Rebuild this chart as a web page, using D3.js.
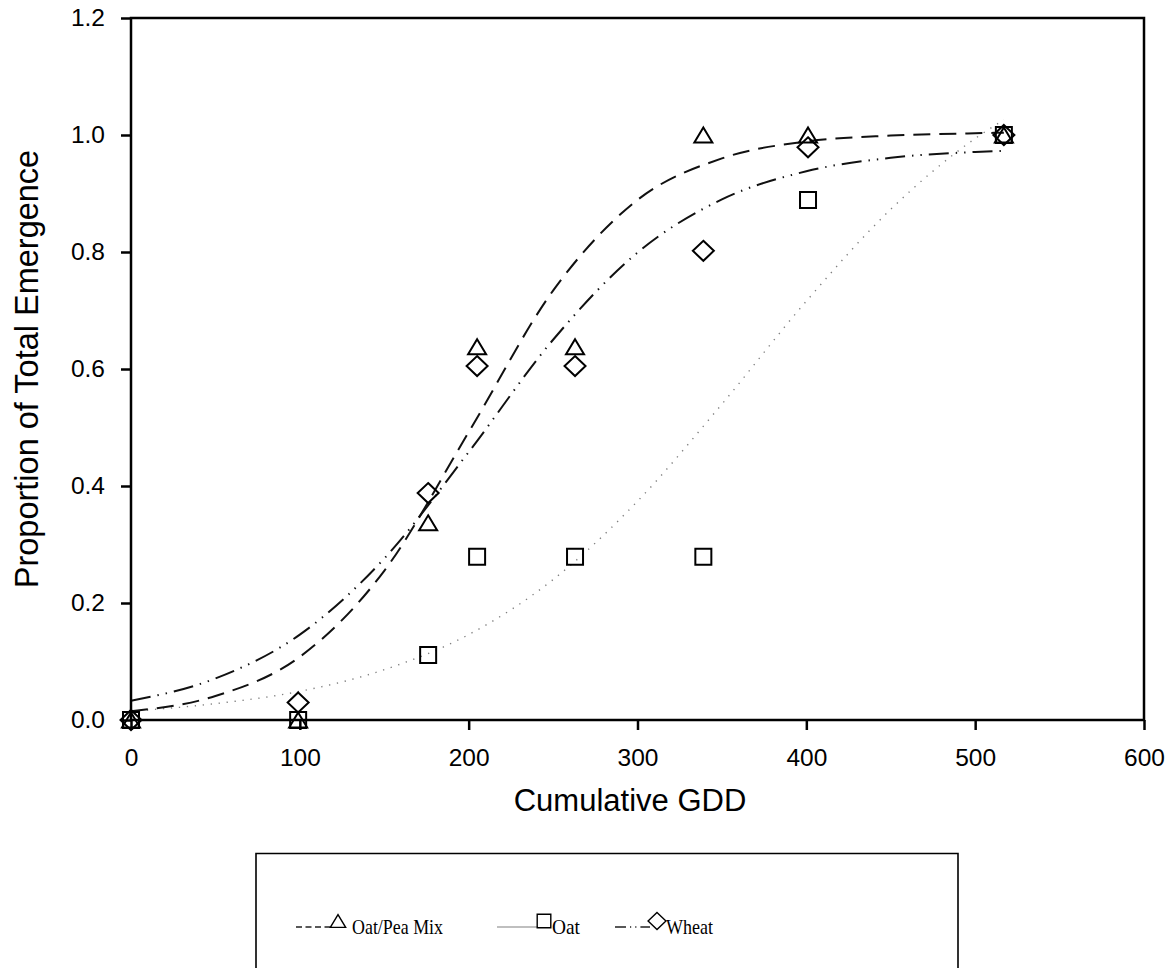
<!DOCTYPE html>
<html>
<head>
<meta charset="utf-8">
<script src="https://cdn.jsdelivr.net/npm/d3@7"></script>
<style>
  html, body { margin: 0; padding: 0; background: #fff; }
  svg { display: block; }
</style>
</head>
<body>
<svg id="chart" width="1176" height="968"></svg>
<script>
// Observed emergence (GDD sampling dates)
const gdd = [0, 99, 176, 205, 263, 339, 401, 517];
const mixObs = [0, 0, 0.337, 0.638, 0.638, 1.0, 1.0, 1.0];
const oatObs = [0, 0, 0.111, 0.279, 0.279, 0.279, 0.889, 1.0];
const wheatObs = [0, 0.03, 0.388, 0.605, 0.605, 0.802, 0.979, 1.0];

// Fitted sigmoid curves, sampled along GDD
const curveX = [0, 50, 100, 150, 200, 250, 300, 350, 400, 450, 500, 517];
const mixFit = [0.015, 0.041, 0.108, 0.255, 0.492, 0.734, 0.889, 0.960, 0.989, 0.999, 1.003, 1.004];
const oatFit = [0.015, 0.028, 0.049, 0.086, 0.146, 0.240, 0.374, 0.540, 0.716, 0.873, 0.994, 1.026];
const wheatFit = [0.033, 0.071, 0.146, 0.276, 0.458, 0.650, 0.799, 0.890, 0.938, 0.961, 0.971, 0.973];

const xTicks = [0, 100, 200, 300, 400, 500, 600];
const yTicks = [0, 0.2, 0.4, 0.6, 0.8, 1.0, 1.2];
const seriesNames = ["Oat/Pea Mix", "Oat", "Wheat"];

const svg = d3.select("#chart");
const x = d3.scaleLinear().domain([0, 600]).range([131, 1144]);
const y = d3.scaleLinear().domain([0, 1.2]).range([720, 18]);

const sans = "Arial, 'Liberation Sans', sans-serif";
const serif = "'Times New Roman', 'Liberation Serif', serif";

// Marker shapes (open, centred on the point), k scales the size
function triPath(cx, cy, k = 1) { const w = 9 * k, h = 7.5 * k; return `M${cx},${cy - h}L${cx + w},${cy + h}L${cx - w},${cy + h}Z`; }
function sqPath(cx, cy, k = 1) { const s = 8 * k; return `M${cx - s},${cy - s}H${cx + s}V${cy + s}H${cx - s}Z`; }
function diaPath(cx, cy, k = 1) { const w = 10.5 * k, h = 10 * k; return `M${cx},${cy - h}L${cx + w},${cy}L${cx},${cy + h}L${cx - w},${cy}Z`; }

// Fitted curves
const line = d3.line().x(d => x(d[0])).y(d => y(d[1])).curve(d3.curveMonotoneX);
const fits = [
  { vals: oatFit, stroke: "#808080", width: 1.4, dash: "1.3,6.7" },
  { vals: wheatFit, stroke: "#111", width: 2, dash: "20,7,1.4,7,1.4,7" },
  { vals: mixFit, stroke: "#111", width: 2, dash: "17,9" }
];
fits.forEach(f => {
  svg.append("path")
    .datum(curveX.map((gx, i) => [gx, f.vals[i]]))
    .attr("d", line)
    .attr("fill", "none")
    .attr("stroke", f.stroke)
    .attr("stroke-width", f.width)
    .attr("stroke-dasharray", f.dash);
});

// Observed points
const marks = [
  { vals: mixObs, shape: triPath },
  { vals: oatObs, shape: sqPath },
  { vals: wheatObs, shape: diaPath }
];
marks.forEach(m => {
  svg.append("g").selectAll("path")
    .data(gdd.map((gx, i) => [gx, m.vals[i]]))
    .join("path")
    .attr("d", d => m.shape(x(d[0]), y(d[1])))
    .attr("fill", "none")
    .attr("stroke", "#000")
    .attr("stroke-width", 2);
});

// Axes
const xAxis = d3.axisBottom(x).tickValues(xTicks).tickFormat(d3.format("d"))
  .tickSize(10).tickSizeOuter(0).tickPadding(19);
const yAxis = d3.axisLeft(y).tickValues(yTicks).tickFormat(d3.format(".1f"))
  .tickSize(10).tickSizeOuter(0).tickPadding(16);

const gx = svg.append("g").attr("transform", "translate(0,720)").call(xAxis);
const gy = svg.append("g").attr("transform", "translate(131,0)").call(yAxis);
[gx, gy].forEach(g => {
  g.attr("font-size", null).attr("font-family", null);
  g.select(".domain").remove();
  g.selectAll(".tick line").attr("stroke", "#000").attr("stroke-width", 2.5);
  g.selectAll(".tick text").attr("fill", "#000").style("font-family", sans).style("font-size", "24.5px");
});

// Plot frame
svg.append("rect")
  .attr("x", x(0)).attr("y", y(1.2))
  .attr("width", x(600) - x(0)).attr("height", y(0) - y(1.2))
  .attr("fill", "none").attr("stroke", "#000").attr("stroke-width", 2.5);

// Axis titles
svg.append("text")
  .attr("x", 630).attr("y", 811)
  .attr("text-anchor", "middle")
  .style("font-family", sans).style("font-size", "31px")
  .text("Cumulative GDD");
svg.append("text")
  .attr("transform", `translate(38,${(y(0) + y(1.2)) / 2}) rotate(-90)`)
  .attr("text-anchor", "middle")
  .style("font-family", sans).style("font-size", "32.5px")
  .text("Proportion of Total Emergence");

// Legend (condensed serif labels)
const lg = svg.append("g");
lg.append("path")
  .attr("d", "M256,980V853.5H958V980")
  .attr("fill", "none").attr("stroke", "#000").attr("stroke-width", 1.6);
const ly = 927;
const legendItems = [
  { x0: 296, x1: 331, dash: "6,3.5", stroke: "#222", shape: triPath, mx: 338, tx: 352, tw: 91 },
  { x0: 497, x1: 538, dash: null, stroke: "#aaa", shape: sqPath, mx: 544, tx: 552, tw: 28 },
  { x0: 615, x1: 650, dash: "11,4,1.2,4,1.2,4", stroke: "#222", shape: diaPath, mx: 657, tx: 666, tw: 47 }
];
legendItems.forEach((it, i) => {
  lg.append("line")
    .attr("x1", it.x0).attr("x2", it.x1).attr("y1", ly).attr("y2", ly)
    .attr("stroke", it.stroke).attr("stroke-width", 1.3)
    .attr("stroke-dasharray", it.dash);
  lg.append("path")
    .attr("d", it.shape(it.mx, ly - 6, 0.85))
    .attr("fill", "none").attr("stroke", "#000").attr("stroke-width", 1.4);
  lg.append("text")
    .attr("x", it.tx).attr("y", ly + 7)
    .attr("textLength", it.tw).attr("lengthAdjust", "spacingAndGlyphs")
    .style("font-family", serif).style("font-size", "21px")
    .text(seriesNames[i]);
});
</script>
</body>
</html>
